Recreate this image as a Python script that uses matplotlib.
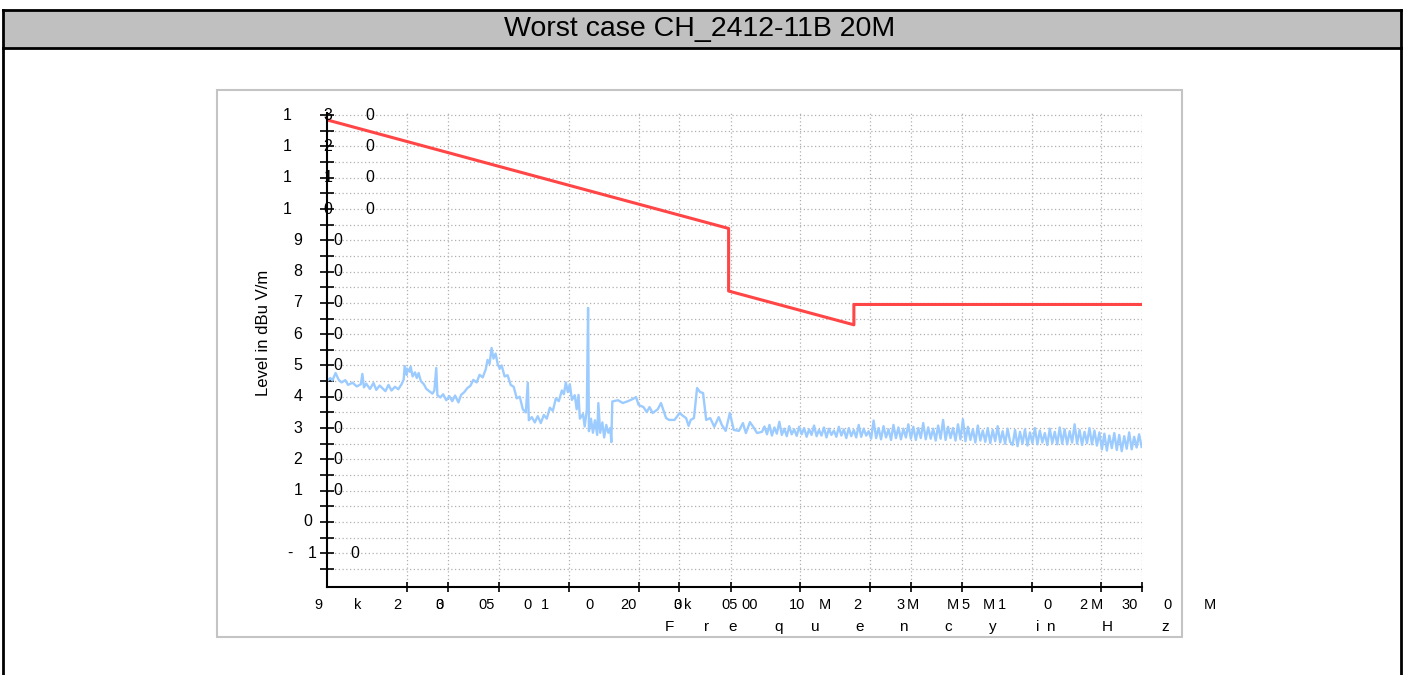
import matplotlib.pyplot as plt
from matplotlib.patches import Rectangle
from matplotlib.lines import Line2D
from matplotlib.ticker import FixedLocator, NullLocator, NullFormatter
from matplotlib.transforms import blended_transform_factory

plt.rcParams['font.family'] = ['Liberation Sans', 'DejaVu Sans']

# ---- данные (частота в кГц, уровень в dBuV/m) ----
limit_f = [9, 490, 490, 1705, 1705, 30000]
limit_db = [128.5, 93.8, 73.8, 63.0, 69.5, 69.5]

# 9 кГц - 150 кГц
scan1_f = [9.0, 9.3, 9.5, 9.8, 10.1, 10.4, 10.8, 11.1, 11.6, 12.1, 12.6, 12.8, 13.0, 13.3, 13.8,
           14.3, 14.7, 15.2, 16.1, 16.6, 17.1, 17.7, 18.3, 18.9, 19.3, 19.5, 19.9, 20.0, 20.5, 20.7,
           21.1, 21.6, 22.0, 22.4, 22.9, 23.6, 24.2, 24.9, 25.7, 26.2, 26.7, 27.0, 27.8, 28.6, 29.5,
           30.4, 31.3, 32.2, 33.3, 34.2, 35.3, 36.4, 37.5, 38.6, 39.9, 41.1, 42.4, 43.7, 44.5, 45.4,
           46.3, 47.2, 48.2, 49.2, 50.2, 51.2, 52.7, 54.3, 56.0, 57.7, 59.5, 61.3, 63.2, 65.1, 66.4,
           67.1, 69.1, 71.2, 73.3, 75.6, 77.9, 80.2, 82.7, 85.2, 87.8, 90.4, 93.2, 95.1, 97.0, 98.9,
           100.9, 103, 106, 108, 110, 111.5, 115, 117, 119.5, 121, 122, 124.5, 127, 129.5, 132.5,
           134, 136.5, 139.5, 142, 145, 148, 151, 152.5]
scan1_db = [45.0, 46.0, 45.2, 47.6, 45.5, 44.6, 45.3, 43.8, 44.5, 43.3, 44.0, 47.3, 43.0, 44.2, 42.5,
            44.4, 42.2, 43.6, 41.8, 43.8, 42.0, 43.2, 42.4, 44.0, 45.5, 49.8, 47.0, 49.0, 48.0, 49.6,
            46.5, 47.8, 46.0, 47.6, 45.0, 44.0, 42.5, 41.8, 41.0, 42.0, 49.2, 40.5, 39.8, 40.8, 38.9,
            40.2, 38.6, 40.4, 38.2, 40.6, 41.5, 42.8, 43.5, 45.4, 44.6, 47.0, 46.2, 48.8, 51.8, 50.5,
            55.6, 52.2, 53.8, 50.5, 49.0, 50.0, 46.5, 46.9, 43.8, 43.2, 39.5, 40.0, 36.0, 35.0, 44.5,
            32.5, 33.5, 31.8, 33.8, 31.6, 34.2, 33.0, 36.5, 35.5, 39.5, 38.6, 42.0, 40.8, 44.6, 41.5,
            44.0, 39.0, 40.5, 36.0, 40.6, 33.0, 34.5, 30.5, 36.0, 68.4, 29.0, 33.0, 28.5, 32.5, 27.8,
            38.0, 28.5, 31.8, 27.0, 31.0, 28.5, 30.0, 25.5]

# 150 кГц - 700 кГц
scan2_f = [154, 163, 171, 180, 189, 195, 200, 210, 217, 223, 230, 242, 250, 263, 271, 286, 301,
           311, 321, 329, 336, 347, 358, 369, 380, 392, 408, 425, 444, 458, 476, 496, 516, 543,
           565, 582, 606, 631, 650, 683]
scan2_db = [38.5, 38.9, 38.0, 38.6, 39.3, 39.9, 37.4, 36.7, 35.1, 36.7, 34.8, 36.0, 38.0, 33.2,
            32.6, 32.6, 34.8, 33.9, 33.2, 30.7, 32.6, 33.2, 42.8, 41.5, 41.2, 32.6, 33.2, 30.4,
            33.5, 31.0, 29.1, 34.8, 29.4, 29.1, 31.6, 28.4, 31.9, 30.0, 28.4, 28.8]

# 700 кГц - 30 МГц
scan3_f = [700, 718, 736, 754, 773, 792, 812, 832, 853, 874, 896, 918, 941, 965, 989,
           1014, 1039, 1065, 1092, 1119, 1147, 1176, 1205, 1235, 1266, 1298, 1330, 1363, 1397, 1432,
           1468, 1505, 1543, 1581, 1621, 1661, 1703, 1745, 1789, 1834, 1880, 1927, 1975,
           2024, 2075, 2127, 2180, 2234, 2290, 2348, 2406, 2467, 2528, 2591, 2656, 2723, 2791, 2861,
           2932, 3006, 3081, 3158, 3237, 3318, 3400, 3485, 3573, 3662, 3754, 3848, 3944, 4042, 4143,
           4247, 4353, 4462, 4574, 4688, 4805, 4925,
           5048, 5175, 5304, 5437, 5573, 5712, 5855, 6001, 6151, 6305, 6463, 6624, 6790, 6960, 7134,
           7312, 7495, 7682, 7874, 8071,
           8273, 8480, 8692, 8909, 9132, 9360, 9594, 9834, 10080, 10332, 10590, 10855, 11126, 11405,
           11690, 11982, 12282, 12589, 12904, 13226,
           13557, 13896, 14243, 14599, 14964, 15338, 15722, 16115, 16518, 16931, 17354, 17788, 18232,
           18688, 19155, 19634,
           20125, 20628, 21144, 21673, 22215, 22770, 23339, 23923, 24521, 25134, 25762, 26406, 27066,
           27743, 28437, 29148, 29877]
scan3_db = [30.5, 28.0, 31.0, 27.6, 30.2, 28.2, 32.0, 27.8, 29.8, 27.4, 30.6, 28.0, 29.6, 27.5, 30.4,
            28.0, 30.0, 27.2, 29.6, 27.8, 30.8, 27.4, 29.4, 27.6, 30.2, 27.0, 29.8, 27.8, 29.2, 27.2,
            30.4, 27.6, 29.6, 26.8, 30.0, 27.4, 29.4, 27.0, 31.0, 27.2, 29.8, 27.6, 29.0,
            26.6, 32.4, 26.8, 30.0, 26.4, 30.6, 27.0, 29.6, 26.2, 31.0, 26.8, 30.2, 26.4, 29.8, 27.0,
            31.2, 26.6, 30.4, 26.2, 30.0, 26.8, 31.6, 26.4, 30.2, 26.6, 29.8, 26.0, 30.8, 26.6, 32.6,
            26.2, 30.4, 26.8, 30.0, 26.0, 31.2, 26.4,
            32.8, 25.8, 30.4, 26.2, 29.6, 25.4, 30.8, 26.0, 29.2, 25.6, 30.0, 25.2, 29.4, 25.8, 30.6,
            25.4, 29.0, 25.0, 29.8, 25.6,
            24.6, 29.4, 24.2, 28.8, 25.0, 29.6, 24.4, 28.6, 25.2, 30.0, 24.8, 29.2, 25.4, 28.4,
            24.6, 29.8, 25.2, 28.8, 24.8, 30.2,
            25.0, 29.6, 24.8, 29.0, 25.4, 31.2, 25.0, 29.4, 24.6, 28.8, 25.2, 30.0, 24.8,
            29.2, 24.4, 28.6,
            23.2, 28.2, 22.8, 27.6, 23.6, 28.4, 23.0, 27.8, 22.6, 27.4, 23.4, 28.6, 23.2,
            27.2, 23.8, 28.0, 24.0]

x_ticks = [20, 30, 50, 100, 200, 300, 500, 1000, 2000, 3000, 5000, 10000, 20000, 30000]
y_ticks = list(range(-15, 131, 5))

# "поломанные" подписи осей как в оригинальном отчёте
y_lab_values = [130, 120, 110, 100, 90, 80, 70, 60, 50, 40, 30, 20, 10, 0, -10]
y_lab_first = ["1", "1", "1", "1", "9", "8", "7", "6", "5", "4", "3", "2", "1", "0", "-"]
y_lab_second = ["3", "2", "1", "0", "0", "0", "0", "0", "0", "0", "0", "0", "0", "", "1"]
y_lab_third = ["0", "0", "0", "0", "", "", "", "", "", "", "", "", "", "", "0"]
x_lab_parts = ["9", "k", "2", "0", "3", "05", "0", "1", "0", "20", "0", "3", "k", "05", "00",
               "10", "M", "2", "3", "M", "M", "5", "M", "1", "0", "2", "M", "30", "0", "M"]
x_lab_px = [318, 358, 397, 440, 440, 487, 528, 545, 590, 628, 678, 678, 688, 730, 750,
            797, 825, 857, 901, 913, 953, 966, 989, 1002, 1047, 1083, 1097, 1130, 1167, 1210]
x_title_chars = ["F", "r", "e", "q", "u", "e", "n", "c", "y", "i", "n", "H", "z"]
x_title_px = [669, 707, 733, 779, 815, 860, 903, 948, 993, 1038, 1050, 1107, 1165]

W, H = 1405, 675
fig = plt.figure(figsize=(W / 100, H / 100), dpi=100)


def fx(px):
    return px / W


def fy(py):
    return 1 - py / H


# рамка таблицы и заголовок
fig.patches.append(Rectangle((fx(3), fy(48)), fx(1401) - fx(3), fy(10) - fy(48),
                             transform=fig.transFigure, facecolor='#c0c0c0', edgecolor='none', zorder=-2))
for xs, ys in [([3, 1401], [10, 10]), ([3, 1401], [48, 48]), ([3, 3], [10, 675]), ([1401, 1401], [10, 675])]:
    fig.add_artist(Line2D([fx(v) for v in xs], [fy(v) for v in ys], transform=fig.transFigure,
                          color='black', lw=2, zorder=-1))
fig.text(fx(700), fy(29), "Worst case CH_2412-11B 20M", ha='center', va='center', fontsize=20.5)

fig.patches.append(Rectangle((fx(217), fy(637)), fx(1182) - fx(217), fy(90) - fy(637),
                             transform=fig.transFigure, facecolor='white', edgecolor='#c4c4c4', lw=1.5,
                             zorder=-2))

ax = fig.add_axes([fx(327), fy(587), fx(1142) - fx(327), fy(113) - fy(587)])
ax.set_zorder(3)
ax.set_facecolor('none')
ax.plot(scan1_f + scan2_f + scan3_f, scan1_db + scan2_db + scan3_db, color='#9ccbff', lw=1.7)
ax.plot(limit_f, limit_db, color='#ff4545', lw=2.2)

ax.set_xscale('log')
ax.set_xlim(9, 30000)
ax.set_ylim(-20.8, 130.7)
ax.xaxis.set_major_locator(FixedLocator(x_ticks))
ax.xaxis.set_minor_locator(NullLocator())
ax.xaxis.set_major_formatter(NullFormatter())
ax.set_yticks(y_ticks)
ax.set_yticklabels([])
ax.grid(True, color='#b0b0b0', linestyle=(0, (1, 2)), lw=0.9)
ax.tick_params(axis='y', direction='inout', length=10, width=1.2)
ax.tick_params(axis='x', direction='inout', length=7, width=1.2)
for s in ['top', 'right']:
    ax.spines[s].set_visible(False)
for s in ['left', 'bottom']:
    ax.spines[s].set_linewidth(1.5)

ytr = blended_transform_factory(fig.transFigure, ax.transData)
for i, v in enumerate(y_lab_values):
    if v >= 100:
        pos = [287, 328, 370]
    elif v > 0:
        pos = [298, 338, None]
    elif v == 0:
        pos = [308, None, None]
    else:
        pos = [290, 312, 355]
    for t, p in zip([y_lab_first[i], y_lab_second[i], y_lab_third[i]], pos):
        if t and p is not None:
            ax.text(fx(p), v, t, transform=ytr, ha='center', va='center', fontsize=11.5)

for t, p in zip(x_lab_parts, x_lab_px):
    fig.text(fx(p), fy(605), t, ha='center', va='center', fontsize=10.5)
for t, p in zip(x_title_chars, x_title_px):
    fig.text(fx(p), fy(627), t, ha='center', va='center', fontsize=11)

fig.text(fx(264), fy(333), "Level in dBu V/m", rotation=90, ha='center', va='center', fontsize=12)

fig.savefig('out.png', dpi=100)
